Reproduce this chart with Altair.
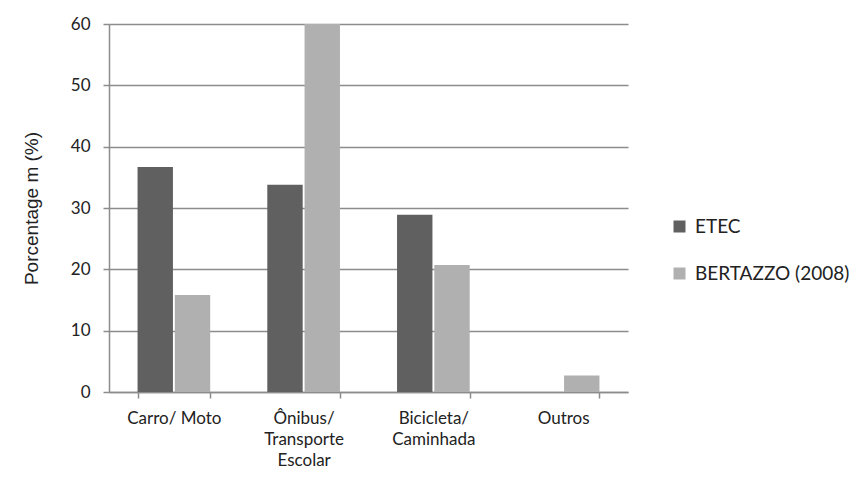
import altair as alt
import pandas as pd

# Modos de transporte (rótulos com quebra de linha marcada por "|")
categorias = ["Carro/ Moto", "Ônibus/|Transporte|Escolar", "Bicicleta/|Caminhada", "Outros"]
series = ["ETEC", "BERTAZZO (2008)"]
etec = [36.7, 33.8, 28.9, 0.0]
bertazzo = [15.8, 60.0, 20.7, 2.7]

rows = []
for c, a, b in zip(categorias, etec, bertazzo):
    rows.append({"modo": c, "fonte": series[0], "valor": a})
    rows.append({"modo": c, "fonte": series[1], "valor": b})
df = pd.DataFrame(rows)

label_font = "Lato"
axis_gray = "#8c8c8c"
text_color = "#222222"

chart = (
    alt.Chart(df)
    .mark_bar()
    .encode(
        x=alt.X(
            "modo:N",
            sort=categorias,
            title=None,
            scale=alt.Scale(paddingInner=0.44, paddingOuter=0.22),
            axis=alt.Axis(
                grid=False,
                labelAngle=0,
                labelExpr="split(datum.label, '|')",
                labelFont=label_font,
                labelFontSize=17,
                labelColor=text_color,
                labelLineHeight=21,
                labelPadding=12,
                tickBand="extent",
                tickSize=6,
                tickColor=axis_gray,
                tickWidth=1.5,
                domainColor=axis_gray,
                domainWidth=1.5,
            ),
        ),
        xOffset=alt.XOffset("fonte:N", sort=series, scale=alt.Scale(paddingInner=0.05)),
        y=alt.Y(
            "valor:Q",
            scale=alt.Scale(domain=[0, 60], nice=False),
            title="Porcentage m (%)",
            axis=alt.Axis(
                values=[0, 10, 20, 30, 40, 50, 60],
                labelFont=label_font,
                labelFontSize=17,
                labelColor=text_color,
                labelPadding=13,
                tickSize=6,
                tickColor=axis_gray,
                tickWidth=1.5,
                domainColor=axis_gray,
                domainWidth=1.5,
                gridColor=axis_gray,
                gridWidth=1.5,
                titleFont="Liberation Sans",
                titleFontSize=19,
                titleFontWeight="normal",
                titleColor=text_color,
                titlePadding=29,
            ),
        ),
        color=alt.Color(
            "fonte:N",
            sort=series,
            scale=alt.Scale(domain=series, range=["#606060", "#b0b0b0"]),
            legend=alt.Legend(
                title=None,
                orient="none",
                legendX=561,
                legendY=193,
                symbolType="square",
                symbolSize=144,
                symbolStrokeWidth=0,
                labelFont=label_font,
                labelFontSize=19,
                labelLimit=400,
                labelColor=text_color,
                rowPadding=27,
                labelOffset=6,
            ),
        ),
    )
    .properties(
        width=519,
        height=368,
        background="white",
        padding={"left": 109, "top": 24, "right": 233, "bottom": 85},
        autosize=alt.AutoSizeParams(type="none"),
    )
    .configure_view(stroke=None)
)

chart.save("out.html", embed_options={"renderer": "svg", "actions": False})
